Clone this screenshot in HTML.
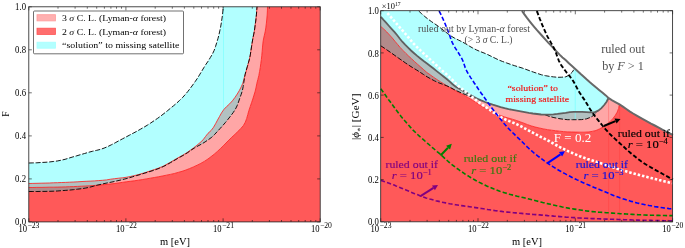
<!DOCTYPE html>
<html><head><meta charset="utf-8"><title>plot</title>
<style>html,body{margin:0;padding:0;background:#fff}svg{display:block}</style></head>
<body><svg width="685" height="248" viewBox="0 0 685 248">
<rect width="685" height="248" fill="#fff"/>
<g id="left">
<path d="M28.8,183.5 L32.9,183.4 L37.0,183.3 L41.1,183.2 L45.2,183.1 L49.3,183.0 L53.4,182.8 L57.5,182.7 L61.6,182.5 L65.7,182.4 L69.7,182.2 L73.8,182.0 L77.9,181.8 L82.0,181.5 L86.1,181.3 L90.2,181.1 L94.3,180.9 L98.4,180.6 L102.5,180.3 L106.5,179.9 L110.6,179.2 L114.6,178.7 L118.7,178.2 L122.8,177.8 L126.8,177.2 L130.8,176.4 L134.8,175.5 L138.8,174.5 L142.8,173.3 L146.7,172.1 L150.6,170.8 L154.5,169.5 L158.3,168.2 L162.1,166.7 L165.8,164.8 L169.4,162.8 L172.9,160.8 L176.4,158.7 L180.0,156.7 L183.6,154.7 L187.1,152.5 L190.4,150.2 L193.7,147.8 L197.0,145.2 L200.1,142.6 L203.1,139.8 L205.5,136.5 L208.0,133.3 L211.1,130.5 L213.5,127.3 L215.6,123.7 L217.5,120.1 L219.5,116.5 L221.5,112.9 L223.8,109.5 L226.6,106.6 L229.7,103.8 L232.4,100.8 L234.9,97.5 L237.2,94.1 L239.3,90.6 L241.2,86.9 L242.8,83.2 L243.9,79.2 L244.9,75.3 L246.1,71.3 L247.2,67.4 L248.3,63.4 L249.3,59.5 L250.2,55.5 L250.8,51.4 L251.4,47.4 L252.1,43.3 L252.7,39.3 L253.5,35.3 L254.3,31.2 L254.9,27.2 L255.4,23.1 L255.9,19.1 L256.4,15.0 L256.7,10.9 L257.0,6.8 L267.5,6.8 L267.4,10.9 L267.2,15.0 L266.8,19.0 L266.4,23.1 L265.9,27.1 L265.3,31.1 L264.4,35.1 L263.5,39.0 L262.9,43.1 L262.5,47.1 L262.2,51.2 L261.8,55.2 L261.4,59.3 L260.8,63.3 L260.3,67.3 L259.6,71.3 L258.9,75.3 L257.9,79.3 L256.9,83.2 L256.1,87.2 L255.2,91.2 L254.0,95.1 L252.8,99.0 L251.5,102.8 L250.2,106.7 L248.9,110.5 L247.8,114.5 L246.7,118.4 L245.3,122.2 L243.3,125.7 L240.6,128.7 L237.7,131.6 L234.8,134.5 L231.8,137.2 L228.9,140.1 L226.0,143.0 L223.2,145.9 L220.3,148.7 L217.3,151.5 L214.2,154.2 L211.0,156.7 L207.8,159.1 L204.3,161.4 L200.8,163.4 L197.2,165.2 L193.5,166.9 L189.7,168.5 L185.9,170.0 L182.1,171.3 L178.2,172.4 L174.3,173.5 L170.3,174.4 L166.3,175.2 L162.3,176.0 L158.3,176.8 L154.3,177.5 L150.3,178.2 L146.3,178.9 L142.3,179.6 L138.3,180.2 L134.2,180.8 L130.2,181.3 L126.2,181.8 L122.2,182.4 L118.1,183.0 L114.1,183.6 L110.1,184.0 L106.0,184.5 L102.0,184.8 L97.9,185.2 L93.9,185.5 L89.8,185.8 L85.7,186.0 L81.7,186.2 L77.6,186.4 L73.5,186.6 L69.5,186.7 L65.4,186.9 L61.3,187.0 L57.3,187.1 L53.2,187.2 L49.1,187.2 L45.1,187.3 L41.0,187.4 L36.9,187.4 L32.9,187.5 L28.8,187.5Z" fill="#ffa6a6"/>
<path d="M28.8,187.5 L32.9,187.5 L36.9,187.4 L41.0,187.4 L45.1,187.3 L49.1,187.2 L53.2,187.2 L57.3,187.1 L61.3,187.0 L65.4,186.9 L69.5,186.7 L73.5,186.6 L77.6,186.4 L81.7,186.2 L85.7,186.0 L89.8,185.8 L93.9,185.5 L97.9,185.2 L102.0,184.8 L106.0,184.5 L110.1,184.0 L114.1,183.6 L118.1,183.0 L122.2,182.4 L126.2,181.8 L130.2,181.3 L134.2,180.8 L138.3,180.2 L142.3,179.6 L146.3,178.9 L150.3,178.2 L154.3,177.5 L158.3,176.8 L162.3,176.0 L166.3,175.2 L170.3,174.4 L174.3,173.5 L178.2,172.4 L182.1,171.3 L185.9,170.0 L189.7,168.5 L193.5,166.9 L197.2,165.2 L200.8,163.4 L204.3,161.4 L207.8,159.1 L211.0,156.7 L214.2,154.2 L217.3,151.5 L220.3,148.7 L223.2,145.9 L226.0,143.0 L228.9,140.1 L231.8,137.2 L234.8,134.5 L237.7,131.6 L240.6,128.7 L243.3,125.7 L245.3,122.2 L246.7,118.4 L247.8,114.5 L248.9,110.5 L250.2,106.7 L251.5,102.8 L252.8,99.0 L254.0,95.1 L255.2,91.2 L256.1,87.2 L256.9,83.2 L257.9,79.3 L258.9,75.3 L259.6,71.3 L260.3,67.3 L260.8,63.3 L261.4,59.3 L261.8,55.2 L262.2,51.2 L262.5,47.1 L262.9,43.1 L263.5,39.0 L264.4,35.1 L265.3,31.1 L265.9,27.1 L266.4,23.1 L266.8,19.0 L267.2,15.0 L267.4,10.9 L267.5,6.8 L320.2,6.8 L320.2,221.9 L28.8,221.9Z" fill="#ff5959"/>
<path d="M28.8,163.0 L32.9,162.9 L36.9,162.8 L41.0,162.5 L45.0,162.3 L49.1,162.0 L53.2,161.5 L57.2,161.0 L61.2,160.2 L65.1,159.3 L69.0,158.1 L72.9,156.9 L76.8,155.8 L80.7,154.6 L84.6,153.5 L88.5,152.3 L92.4,151.3 L96.4,150.4 L100.4,149.4 L104.1,148.1 L107.9,146.5 L111.5,144.7 L115.2,142.8 L118.8,140.8 L122.4,138.9 L126.0,137.0 L129.6,135.1 L133.2,133.2 L136.8,131.3 L140.3,129.3 L143.8,127.3 L147.3,125.2 L150.7,123.0 L154.1,120.7 L157.5,118.4 L160.8,116.0 L164.0,113.5 L167.2,111.0 L170.3,108.4 L173.5,105.8 L176.6,103.2 L179.6,100.4 L182.5,97.6 L185.2,94.6 L187.8,91.5 L190.3,88.3 L192.7,85.0 L195.1,81.7 L197.4,78.3 L199.5,74.9 L201.6,71.4 L203.7,67.9 L205.9,64.4 L208.2,61.1 L210.3,57.6 L212.4,54.1 L214.1,50.5 L215.5,46.6 L216.7,42.7 L217.9,38.8 L218.9,34.9 L219.8,30.9 L220.6,27.0 L221.3,23.0 L221.9,19.0 L222.5,14.9 L222.9,10.9 L223.2,6.8 L257.0,6.8 L256.7,10.9 L256.4,14.9 L256.0,18.9 L255.5,22.9 L254.9,27.0 L254.4,31.0 L253.6,34.9 L252.8,38.9 L252.1,42.9 L251.5,46.9 L250.9,50.9 L250.3,54.9 L249.5,58.9 L248.4,62.8 L247.3,66.7 L246.1,70.6 L245.1,74.5 L244.4,78.5 L243.8,82.5 L243.2,86.5 L242.4,90.5 L241.2,94.3 L239.8,98.1 L238.5,102.0 L237.1,105.8 L235.3,109.4 L233.1,112.7 L230.6,116.0 L228.1,119.2 L225.5,122.4 L222.9,125.4 L220.2,128.4 L217.4,131.4 L214.7,134.4 L211.8,137.2 L208.5,139.6 L205.1,141.9 L201.7,144.0 L198.1,145.9 L194.6,147.9 L191.2,150.1 L187.9,152.5 L184.5,154.6 L181.0,156.6 L177.4,158.6 L173.9,160.7 L170.4,162.7 L166.9,164.7 L163.3,166.6 L159.6,168.2 L155.8,169.6 L152.0,170.9 L148.1,172.1 L144.2,173.3 L140.4,174.5 L136.5,175.6 L132.6,176.8 L128.7,178.0 L124.8,179.0 L120.9,180.0 L116.9,180.9 L113.0,181.8 L109.0,182.6 L105.0,183.4 L101.1,184.3 L97.1,185.2 L93.2,186.3 L89.3,187.3 L85.3,188.1 L81.4,188.7 L77.3,189.2 L73.3,189.7 L69.3,190.1 L65.2,190.4 L61.2,190.7 L57.1,191.0 L53.1,191.2 L49.1,191.3 L45.0,191.4 L41.0,191.4 L36.9,191.5 L32.9,191.5 L28.8,191.5Z" fill="#00ffff" fill-opacity="0.3"/>
<path d="M223.5,7V110" stroke="#7ff" stroke-width="1" opacity="0.6" fill="none"/>
<path d="M28.8,183.5 L32.9,183.4 L37.0,183.3 L41.1,183.2 L45.2,183.1 L49.3,183.0 L53.4,182.8 L57.5,182.7 L61.6,182.5 L65.7,182.4 L69.7,182.2 L73.8,182.0 L77.9,181.8 L82.0,181.5 L86.1,181.3 L90.2,181.1 L94.3,180.9 L98.4,180.6 L102.5,180.3 L106.5,179.9 L110.6,179.2 L114.6,178.7 L118.7,178.2 L122.8,177.8 L126.8,177.2 L130.8,176.4 L134.8,175.5 L138.8,174.5 L142.8,173.3 L146.7,172.1 L150.6,170.8 L154.5,169.5 L158.3,168.2 L162.1,166.7 L165.8,164.8 L169.4,162.8 L172.9,160.8 L176.4,158.7 L180.0,156.7 L183.6,154.7 L187.1,152.5 L190.4,150.2 L193.7,147.8 L197.0,145.2 L200.1,142.6 L203.1,139.8 L205.5,136.5 L208.0,133.3 L211.1,130.5 L213.5,127.3 L215.6,123.7 L217.5,120.1 L219.5,116.5 L221.5,112.9 L223.8,109.5 L226.6,106.6 L229.7,103.8 L232.4,100.8 L234.9,97.5 L237.2,94.1 L239.3,90.6 L241.2,86.9 L242.8,83.2 L243.9,79.2 L244.9,75.3 L246.1,71.3 L247.2,67.4 L248.3,63.4 L249.3,59.5 L250.2,55.5 L250.8,51.4 L251.4,47.4 L252.1,43.3 L252.7,39.3 L253.5,35.3 L254.3,31.2 L254.9,27.2 L255.4,23.1 L255.9,19.1 L256.4,15.0 L256.7,10.9 L257.0,6.8" stroke="#ff1a1a" stroke-width="0.85" opacity="0.95" fill="none"/>
<path d="M28.8,187.5 L32.9,187.5 L36.9,187.4 L41.0,187.4 L45.1,187.3 L49.1,187.2 L53.2,187.2 L57.3,187.1 L61.3,187.0 L65.4,186.9 L69.5,186.7 L73.5,186.6 L77.6,186.4 L81.7,186.2 L85.7,186.0 L89.8,185.8 L93.9,185.5 L97.9,185.2 L102.0,184.8 L106.0,184.5 L110.1,184.0 L114.1,183.6 L118.1,183.0 L122.2,182.4 L126.2,181.8 L130.2,181.3 L134.2,180.8 L138.3,180.2 L142.3,179.6 L146.3,178.9 L150.3,178.2 L154.3,177.5 L158.3,176.8 L162.3,176.0 L166.3,175.2 L170.3,174.4 L174.3,173.5 L178.2,172.4 L182.1,171.3 L185.9,170.0 L189.7,168.5 L193.5,166.9 L197.2,165.2 L200.8,163.4 L204.3,161.4 L207.8,159.1 L211.0,156.7 L214.2,154.2 L217.3,151.5 L220.3,148.7 L223.2,145.9 L226.0,143.0 L228.9,140.1 L231.8,137.2 L234.8,134.5 L237.7,131.6 L240.6,128.7 L243.3,125.7 L245.3,122.2 L246.7,118.4 L247.8,114.5 L248.9,110.5 L250.2,106.7 L251.5,102.8 L252.8,99.0 L254.0,95.1 L255.2,91.2 L256.1,87.2 L256.9,83.2 L257.9,79.3 L258.9,75.3 L259.6,71.3 L260.3,67.3 L260.8,63.3 L261.4,59.3 L261.8,55.2 L262.2,51.2 L262.5,47.1 L262.9,43.1 L263.5,39.0 L264.4,35.1 L265.3,31.1 L265.9,27.1 L266.4,23.1 L266.8,19.0 L267.2,15.0 L267.4,10.9 L267.5,6.8" stroke="#ff1a1a" stroke-width="0.85" opacity="0.95" fill="none"/>
<path d="M28.8,163.0 L32.9,162.9 L36.9,162.8 L41.0,162.5 L45.0,162.3 L49.1,162.0 L53.2,161.5 L57.2,161.0 L61.2,160.2 L65.1,159.3 L69.0,158.1 L72.9,156.9 L76.8,155.8 L80.7,154.6 L84.6,153.5 L88.5,152.3 L92.4,151.3 L96.4,150.4 L100.4,149.4 L104.1,148.1 L107.9,146.5 L111.5,144.7 L115.2,142.8 L118.8,140.8 L122.4,138.9 L126.0,137.0 L129.6,135.1 L133.2,133.2 L136.8,131.3 L140.3,129.3 L143.8,127.3 L147.3,125.2 L150.7,123.0 L154.1,120.7 L157.5,118.4 L160.8,116.0 L164.0,113.5 L167.2,111.0 L170.3,108.4 L173.5,105.8 L176.6,103.2 L179.6,100.4 L182.5,97.6 L185.2,94.6 L187.8,91.5 L190.3,88.3 L192.7,85.0 L195.1,81.7 L197.4,78.3 L199.5,74.9 L201.6,71.4 L203.7,67.9 L205.9,64.4 L208.2,61.1 L210.3,57.6 L212.4,54.1 L214.1,50.5 L215.5,46.6 L216.7,42.7 L217.9,38.8 L218.9,34.9 L219.8,30.9 L220.6,27.0 L221.3,23.0 L221.9,19.0 L222.5,14.9 L222.9,10.9 L223.2,6.8" stroke="#000" stroke-width="0.9" stroke-dasharray="5 1.8" fill="none"/>
<path d="M28.8,191.5 L32.9,191.5 L36.9,191.5 L41.0,191.4 L45.0,191.4 L49.1,191.3 L53.1,191.2 L57.1,191.0 L61.2,190.7 L65.2,190.4 L69.3,190.1 L73.3,189.7 L77.3,189.2 L81.4,188.7 L85.3,188.1 L89.3,187.3 L93.2,186.3 L97.1,185.2 L101.1,184.3 L105.0,183.4 L109.0,182.6 L113.0,181.8 L116.9,180.9 L120.9,180.0 L124.8,179.0 L128.7,178.0 L132.6,176.8 L136.5,175.6 L140.4,174.5 L144.2,173.3 L148.1,172.1 L152.0,170.9 L155.8,169.6 L159.6,168.2 L163.3,166.6 L166.9,164.7 L170.4,162.7 L173.9,160.7 L177.4,158.6 L181.0,156.6 L184.5,154.6 L187.9,152.5 L191.2,150.1 L194.6,147.9 L198.1,145.9 L201.7,144.0 L205.1,141.9 L208.5,139.6 L211.8,137.2 L214.7,134.4 L217.4,131.4 L220.2,128.4 L222.9,125.4 L225.5,122.4 L228.1,119.2 L230.6,116.0 L233.1,112.7 L235.3,109.4 L237.1,105.8 L238.5,102.0 L239.8,98.1 L241.2,94.3 L242.4,90.5 L243.2,86.5 L243.8,82.5 L244.4,78.5 L245.1,74.5 L246.1,70.6 L247.3,66.7 L248.4,62.8 L249.5,58.9 L250.3,54.9 L250.9,50.9 L251.5,46.9 L252.1,42.9 L252.8,38.9 L253.6,34.9 L254.4,31.0 L254.9,27.0 L255.5,22.9 L256.0,18.9 L256.4,14.9 L256.7,10.9 L257.0,6.8" stroke="#000" stroke-width="0.9" stroke-dasharray="5 1.8" fill="none"/>
</g>
<g id="right">
<path d="M380.8,26.5 L383.9,29.2 L386.8,32.0 L389.6,35.0 L392.3,38.0 L394.9,41.2 L397.5,44.3 L400.1,47.4 L402.9,50.4 L405.8,53.3 L408.7,56.1 L411.7,58.9 L414.7,61.7 L417.7,64.4 L420.8,67.1 L423.8,69.8 L426.9,72.5 L430.2,74.8 L433.5,77.2 L436.9,79.5 L440.3,81.7 L443.8,83.9 L447.2,86.0 L450.8,88.0 L454.3,90.0 L457.9,92.0 L461.5,93.9 L465.0,95.9 L468.6,97.9 L472.1,100.0 L475.5,102.2 L478.9,104.4 L482.4,106.5 L486.0,108.5 L489.6,110.4 L493.2,112.2 L496.9,114.0 L500.7,115.5 L504.5,116.9 L508.4,118.1 L512.3,119.2 L516.2,120.4 L520.1,121.8 L523.9,123.2 L527.7,124.7 L531.6,126.0 L535.5,127.1 L539.4,128.0 L543.4,128.9 L547.4,129.6 L551.5,130.2 L555.5,130.7 L559.5,131.2 L563.6,131.6 L567.7,131.9 L571.7,132.0 L575.8,132.1 L579.9,132.2 L584.0,132.2 L588.1,132.0 L592.1,131.4 L596.0,130.5 L599.7,128.8 L603.3,126.8 L606.7,124.5 L609.8,121.8 L612.6,118.9 L615.1,115.6 L617.2,112.1 L618.6,108.4 L619.4,104.3 L619.5,104.3 L622.9,106.6 L626.3,109.0 L629.6,111.3 L633.1,113.5 L636.7,115.6 L640.2,117.6 L643.8,119.6 L647.4,121.6 L651.0,123.6 L654.7,125.5 L658.3,127.4 L661.9,129.4 L665.6,131.3 L669.2,133.1 L672.9,135.0 L672.6,221.8 L380.7,221.8Z" fill="#ff5959"/>
<path d="M380.8,16.8 L383.5,19.9 L386.3,22.9 L389.0,26.0 L391.8,29.1 L394.6,32.1 L397.2,35.2 L399.7,38.5 L402.3,41.7 L405.1,44.7 L408.1,47.6 L411.0,50.5 L414.1,53.2 L417.2,55.9 L420.4,58.5 L423.6,61.0 L427.0,63.5 L430.2,66.0 L433.5,68.5 L436.7,71.1 L439.9,73.6 L443.2,76.2 L446.4,78.7 L449.5,81.4 L452.6,84.2 L455.8,86.7 L459.4,88.8 L463.0,90.7 L466.6,92.8 L470.1,94.9 L473.7,96.9 L477.4,98.7 L481.2,100.4 L485.0,102.0 L488.8,103.4 L492.7,104.7 L496.7,105.9 L500.6,107.1 L504.6,108.2 L508.6,109.1 L512.6,109.9 L516.7,110.7 L520.7,111.4 L524.8,112.2 L528.8,112.9 L532.9,113.5 L537.0,114.0 L541.1,114.5 L545.2,114.7 L549.3,114.6 L553.4,114.3 L557.5,113.9 L561.6,113.3 L565.7,112.8 L569.8,112.1 L573.8,111.8 L578.0,111.8 L582.1,111.9 L586.2,112.1 L590.3,112.3 L594.4,112.3 L598.2,110.6 L601.4,108.1 L604.2,105.0 L606.6,101.7 L608.5,98.0 L608.7,98.2 L612.2,100.4 L615.8,102.3 L619.4,104.3 L618.6,108.4 L617.2,112.1 L615.1,115.6 L612.6,118.9 L609.8,121.8 L606.7,124.5 L603.3,126.8 L599.7,128.8 L596.0,130.5 L592.1,131.4 L588.1,132.0 L584.0,132.2 L579.9,132.2 L575.8,132.1 L571.7,132.0 L567.7,131.9 L563.6,131.6 L559.5,131.2 L555.5,130.7 L551.5,130.2 L547.4,129.6 L543.4,128.9 L539.4,128.0 L535.5,127.1 L531.6,126.0 L527.7,124.7 L523.9,123.2 L520.1,121.8 L516.2,120.4 L512.3,119.2 L508.4,118.1 L504.5,116.9 L500.7,115.5 L496.9,114.0 L493.2,112.2 L489.6,110.4 L486.0,108.5 L482.4,106.5 L478.9,104.4 L475.5,102.2 L472.1,100.0 L468.6,97.9 L465.0,95.9 L461.5,93.9 L457.9,92.0 L454.3,90.0 L450.8,88.0 L447.2,86.0 L443.8,83.9 L440.3,81.7 L436.9,79.5 L433.5,77.2 L430.2,74.8 L426.9,72.5 L423.8,69.8 L420.8,67.1 L417.7,64.4 L414.7,61.7 L411.7,58.9 L408.7,56.1 L405.8,53.3 L402.9,50.4 L400.1,47.4 L397.5,44.3 L394.9,41.2 L392.3,38.0 L389.6,35.0 L386.8,32.0 L383.9,29.2 L380.8,26.5Z" fill="#ffa6a6"/>
<path d="M380.7,10.7 L418.7,11.0 L421.7,13.8 L424.8,16.5 L428.0,19.1 L431.3,21.5 L434.7,23.8 L438.1,26.1 L441.3,28.6 L444.6,31.2 L447.8,33.7 L451.2,36.1 L454.7,38.2 L458.4,40.0 L462.1,41.8 L465.7,43.8 L469.2,46.0 L472.7,48.0 L476.4,49.9 L480.1,51.5 L484.0,53.0 L487.7,54.6 L491.4,56.4 L495.1,58.2 L498.8,60.0 L502.6,61.5 L506.5,62.9 L510.4,64.3 L514.3,65.6 L518.2,66.8 L522.1,68.0 L526.0,69.4 L529.8,70.8 L533.7,72.2 L537.6,73.5 L541.5,74.8 L545.5,75.7 L549.6,76.4 L553.6,76.9 L557.8,77.3 L561.9,77.2 L565.9,76.8 L569.6,74.8 L572.4,72.0 L574.5,68.3 L574.7,68.5 L577.7,71.3 L580.7,74.1 L583.8,76.8 L586.8,79.6 L589.9,82.3 L593.1,84.9 L596.2,87.6 L599.4,90.2 L602.6,92.7 L605.8,95.4 L608.5,98.0 L606.6,101.7 L604.2,105.0 L601.4,108.1 L598.2,110.6 L597.5,111.0 L594.6,114.7 L590.7,117.3 L586.3,118.9 L581.7,119.6 L577.1,119.7 L572.4,119.7 L567.7,119.7 L563.1,119.2 L558.4,118.5 L553.9,117.6 L549.3,116.4 L545.0,114.7 L541.1,114.5 L537.0,114.0 L532.9,113.5 L528.8,112.9 L524.8,112.2 L520.7,111.4 L516.7,110.7 L512.6,109.9 L508.6,109.1 L504.6,108.2 L500.6,107.1 L496.7,105.9 L492.7,104.7 L488.8,103.4 L485.0,102.0 L482.0,100.7 L478.0,99.3 L473.9,97.8 L469.9,96.3 L465.9,94.8 L461.9,93.2 L458.0,91.4 L454.2,89.6 L450.4,87.5 L446.5,85.7 L442.5,84.2 L438.5,82.7 L434.6,80.9 L430.8,78.9 L427.1,76.8 L423.5,74.5 L419.9,72.1 L416.3,69.8 L412.6,67.6 L409.0,65.3 L405.4,62.9 L401.9,60.4 L398.4,58.0 L394.9,55.5 L391.4,53.0 L387.9,50.6 L384.4,48.2 L380.8,45.8Z" fill="#00ffff" fill-opacity="0.3"/>
<path d="M575.3,68V120" stroke="#7ff" stroke-width="1.2" opacity="0.55" fill="none"/>
<path d="M608.6,98V222M619.6,105V222" stroke="#ff3030" stroke-width="0.7" opacity="0.4" fill="none"/>
<path d="M380.8,26.5 L383.9,29.2 L386.8,32.0 L389.6,35.0 L392.3,38.0 L394.9,41.2 L397.5,44.3 L400.1,47.4 L402.9,50.4 L405.8,53.3 L408.7,56.1 L411.7,58.9 L414.7,61.7 L417.7,64.4 L420.8,67.1 L423.8,69.8 L426.9,72.5 L430.2,74.8 L433.5,77.2 L436.9,79.5 L440.3,81.7 L443.8,83.9 L447.2,86.0 L450.8,88.0 L454.3,90.0 L457.9,92.0 L461.5,93.9 L465.0,95.9 L468.6,97.9 L472.1,100.0 L475.5,102.2 L478.9,104.4 L482.4,106.5 L486.0,108.5 L489.6,110.4 L493.2,112.2 L496.9,114.0 L500.7,115.5 L504.5,116.9 L508.4,118.1 L512.3,119.2 L516.2,120.4 L520.1,121.8 L523.9,123.2 L527.7,124.7 L531.6,126.0 L535.5,127.1 L539.4,128.0 L543.4,128.9 L547.4,129.6 L551.5,130.2 L555.5,130.7 L559.5,131.2 L563.6,131.6 L567.7,131.9 L571.7,132.0 L575.8,132.1 L579.9,132.2 L584.0,132.2 L588.1,132.0 L592.1,131.4 L596.0,130.5 L599.7,128.8 L603.3,126.8 L606.7,124.5 L609.8,121.8 L612.6,118.9 L615.1,115.6 L617.2,112.1 L618.6,108.4 L619.4,104.3" stroke="#ff1a1a" stroke-width="0.85" opacity="0.95" fill="none"/>
<path d="M418.7,11.0 L421.7,13.8 L424.8,16.5 L428.0,19.1 L431.3,21.5 L434.7,23.8 L438.1,26.1 L441.3,28.6 L444.6,31.2 L447.8,33.7 L451.2,36.1 L454.7,38.2 L458.4,40.0 L462.1,41.8 L465.7,43.8 L469.2,46.0 L472.7,48.0 L476.4,49.9 L480.1,51.5 L484.0,53.0 L487.7,54.6 L491.4,56.4 L495.1,58.2 L498.8,60.0 L502.6,61.5 L506.5,62.9 L510.4,64.3 L514.3,65.6 L518.2,66.8 L522.1,68.0 L526.0,69.4 L529.8,70.8 L533.7,72.2 L537.6,73.5 L541.5,74.8 L545.5,75.7 L549.6,76.4 L553.6,76.9 L557.8,77.3 L561.9,77.2 L565.9,76.8 L569.6,74.8 L572.4,72.0 L574.5,68.3" stroke="#000" stroke-width="0.9" stroke-dasharray="5 1.8" fill="none"/>
<path d="M380.8,45.8 L384.4,48.2 L387.9,50.6 L391.4,53.0 L394.9,55.5 L398.4,58.0 L401.9,60.4 L405.4,62.9 L409.0,65.3 L412.6,67.6 L416.3,69.8 L419.9,72.1 L423.5,74.5 L427.1,76.8 L430.8,78.9 L434.6,80.9 L438.5,82.7 L442.5,84.2 L446.5,85.7 L450.4,87.5 L454.2,89.6 L458.0,91.4 L461.9,93.2 L465.9,94.8 L469.9,96.3 L473.9,97.8 L478.0,99.3 L482.0,100.7" stroke="#000" stroke-width="0.9" stroke-dasharray="5 1.8" fill="none"/>
<path d="M545.0,114.7 L549.3,116.4 L553.9,117.6 L558.4,118.5 L563.1,119.2 L567.7,119.7 L572.4,119.7 L577.1,119.7 L581.7,119.6 L586.3,118.9 L590.7,117.3 L594.6,114.7 L597.5,111.0" stroke="#000" stroke-width="0.9" stroke-dasharray="5 1.8" fill="none"/>
<path d="M380.8,16.8 L383.5,19.9 L386.3,22.9 L389.0,26.0 L391.8,29.1 L394.6,32.1 L397.2,35.2 L399.7,38.5 L402.3,41.7 L405.1,44.7 L408.1,47.6 L411.0,50.5 L414.1,53.2 L417.2,55.9 L420.4,58.5 L423.6,61.0 L427.0,63.5 L430.2,66.0 L433.5,68.5 L436.7,71.1 L439.9,73.6 L443.2,76.2 L446.4,78.7 L449.5,81.4 L452.6,84.2 L455.8,86.7 L459.4,88.8 L463.0,90.7 L466.6,92.8 L470.1,94.9 L473.7,96.9 L477.4,98.7 L481.2,100.4 L485.0,102.0 L488.8,103.4 L492.7,104.7 L496.7,105.9 L500.6,107.1 L504.6,108.2 L508.6,109.1 L512.6,109.9 L516.7,110.7 L520.7,111.4 L524.8,112.2 L528.8,112.9 L532.9,113.5 L537.0,114.0 L541.1,114.5 L545.2,114.7 L549.3,114.6 L553.4,114.3 L557.5,113.9 L561.6,113.3 L565.7,112.8 L569.8,112.1 L573.8,111.8 L578.0,111.8 L582.1,111.9 L586.2,112.1 L590.3,112.3 L594.4,112.3 L598.2,110.6 L601.4,108.1 L604.2,105.0 L606.6,101.7 L608.5,98.0" stroke="#606060" stroke-width="1.8" fill="none"/>
<path d="M522.0,11.0 L524.4,14.4 L526.8,17.7 L529.3,20.9 L531.9,24.1 L534.6,27.3 L537.2,30.4 L540.0,33.5 L542.7,36.5 L545.5,39.6 L548.2,42.6 L551.1,45.6 L553.9,48.6 L556.7,51.6 L559.6,54.6 L562.5,57.4 L565.6,60.1 L568.6,62.9 L571.7,65.7 L574.7,68.5 L577.7,71.3 L580.7,74.1 L583.8,76.8 L586.8,79.6 L589.9,82.3 L593.1,84.9 L596.2,87.6 L599.4,90.2 L602.6,92.7 L605.8,95.4 L608.7,98.2 L612.2,100.4 L615.8,102.3 L619.5,104.3 L622.9,106.6 L626.3,109.0 L629.6,111.3 L633.1,113.5 L636.7,115.6 L640.2,117.6 L643.8,119.6 L647.4,121.6 L651.0,123.6 L654.7,125.5 L658.3,127.4 L661.9,129.4 L665.6,131.3 L669.2,133.1 L672.9,135.0" stroke="#686868" stroke-width="2.0" fill="none"/>
<path d="M387.4,13.1 L388.7,14.6 L390.1,16.2 L391.4,17.7 L392.7,19.2 L394.0,20.7 L395.4,22.3 L396.7,23.8 L398.0,25.3 L399.3,26.8 L400.7,28.4 L402.0,29.9 L403.3,31.4 L404.6,32.9 L406.0,34.5 L407.3,36.0 L408.6,37.6 L409.8,39.2 L411.1,40.7 L412.4,42.3 L413.8,43.8 L415.2,45.2 L416.6,46.7 L418.0,48.1 L419.5,49.5 L420.9,50.9 L422.4,52.3 L423.9,53.7 L425.4,55.0 L426.9,56.4 L428.3,57.8 L429.8,59.2 L431.3,60.6 L432.8,61.9 L434.3,63.3 L435.8,64.7 L437.2,66.0 L438.7,67.4 L440.2,68.8 L441.7,70.1 L443.2,71.5 L444.8,72.8 L446.3,74.1 L447.8,75.5 L449.3,76.9 L450.7,78.2 L452.2,79.7 L453.6,81.2 L454.9,82.6 L456.3,84.1 L457.8,85.5 L459.3,86.8 L460.9,88.1 L462.5,89.3 L464.1,90.6 L465.7,91.8 L467.2,93.1 L468.8,94.4 L470.4,95.6 L472.0,96.9 L473.6,98.1 L475.2,99.4 L476.8,100.6 L478.4,101.9 L480.0,103.1 L481.6,104.2 L483.3,105.4 L485.0,106.5 L486.6,107.7 L488.3,108.8 L490.0,110.0 L491.6,111.1 L493.3,112.3 L495.0,113.4 L496.7,114.5 L498.4,115.6 L500.1,116.7 L501.8,117.7 L503.6,118.6 L505.4,119.5 L507.3,120.3 L509.2,121.1 L511.1,121.8 L512.9,122.6 L514.8,123.4 L516.6,124.2 L518.5,125.1 L520.3,126.0 L522.1,126.9 L523.8,127.9 L525.6,128.8 L527.4,129.8 L529.2,130.8 L530.9,131.8 L532.7,132.7 L534.5,133.7 L536.3,134.6 L538.1,135.5 L539.9,136.5 L541.7,137.4 L543.5,138.3 L545.3,139.2 L547.1,140.1 L548.9,141.0 L550.7,142.0 L552.4,143.0 L554.2,144.0 L556.0,145.0 L557.7,145.9 L559.5,146.9 L561.3,147.8 L563.2,148.7 L565.0,149.6 L566.8,150.5 L568.6,151.4 L570.5,152.2 L572.3,153.0 L574.2,153.9 L576.0,154.6 L577.9,155.4 L579.8,156.2 L581.6,156.9 L583.5,157.6 L585.4,158.2 L587.4,158.9 L589.3,159.5 L591.2,160.1 L593.1,160.7 L595.1,161.4 L597.0,162.0 L598.9,162.6 L600.9,163.2 L602.8,163.8 L604.7,164.4 L606.6,165.1 L608.6,165.7 L610.5,166.4 L612.4,167.0 L614.3,167.7 L616.2,168.3 L618.1,168.9 L620.1,169.6 L622.0,170.2 L623.9,170.7 L625.9,171.3 L627.8,171.9 L629.8,172.4 L631.7,173.0 L633.7,173.5 L635.6,174.0 L637.6,174.6 L639.5,175.1 L641.5,175.6 L643.4,176.1 L645.4,176.6 L647.3,177.1 L649.3,177.6 L651.3,178.1 L653.2,178.6 L655.2,179.1 L657.2,179.6 L659.1,180.1 L661.1,180.5 L663.0,181.0 L665.0,181.5 L667.0,181.9 L669.0,182.4 L670.9,182.9 L672.9,183.3" stroke="#fff" stroke-width="2.6" stroke-dasharray="2.5 1.9" fill="none"/>
<path d="M537.0,11.0 L537.6,12.9 L538.3,14.8 L539.0,16.7 L539.7,18.6 L540.5,20.5 L541.2,22.4 L542.0,24.3 L542.8,26.1 L543.6,28.0 L544.4,29.8 L545.2,31.7 L546.1,33.5 L546.9,35.3 L547.8,37.1 L548.8,38.9 L549.8,40.6 L550.8,42.4 L551.8,44.1 L552.8,45.9 L553.7,47.7 L554.6,49.5 L555.4,51.4 L556.1,53.2 L556.8,55.2 L557.5,57.1 L558.2,59.0 L558.9,60.8 L559.8,62.6 L560.8,64.4 L561.9,66.1 L563.1,67.7 L564.2,69.4 L565.5,71.0 L566.7,72.6 L568.0,74.2 L569.3,75.7 L570.5,77.3 L571.7,78.9 L572.9,80.6 L573.9,82.3 L574.9,84.0 L575.8,85.8 L576.8,87.6 L577.7,89.4 L578.7,91.2 L579.8,92.9 L580.9,94.6 L582.0,96.3 L583.1,97.9 L584.3,99.6 L585.4,101.3 L586.4,103.0 L587.5,104.8 L588.5,106.5 L589.5,108.2 L590.6,109.9 L591.7,111.6 L592.8,113.3 L594.0,114.9 L595.2,116.5 L596.5,118.1 L597.7,119.7 L599.0,121.3 L600.2,122.9 L601.5,124.4 L602.8,126.0 L604.1,127.5 L605.4,129.1 L606.8,130.6 L608.1,132.1 L609.5,133.6 L610.9,135.0 L612.3,136.4 L613.8,137.8 L615.3,139.1 L616.8,140.5 L618.3,141.9 L619.8,143.2 L621.3,144.6 L622.8,146.0 L624.3,147.3 L625.8,148.7 L627.3,150.0 L628.8,151.4 L630.3,152.7 L631.8,154.0 L633.4,155.3 L635.0,156.6 L636.5,157.8 L638.1,159.1 L639.8,160.3 L641.4,161.5 L643.0,162.6 L644.7,163.7 L646.4,164.8 L648.2,165.8 L649.9,166.8 L651.7,167.8 L653.4,168.8 L655.2,169.8 L657.0,170.8 L658.7,171.8 L660.5,172.7 L662.3,173.7 L664.0,174.7 L665.8,175.7 L667.6,176.6 L669.3,177.6 L671.1,178.5 L672.9,179.5" stroke="#000" stroke-width="1.9" stroke-dasharray="4.3 2.2" fill="none"/>
<path d="M439.2,11.0 L440.1,12.8 L441.0,14.6 L441.8,16.4 L442.7,18.3 L443.5,20.1 L444.3,21.9 L445.1,23.8 L445.9,25.7 L446.6,27.5 L447.4,29.4 L448.1,31.3 L448.8,33.2 L449.5,35.0 L450.2,37.0 L450.8,38.9 L451.5,40.7 L452.3,42.6 L453.2,44.4 L454.2,46.1 L455.2,47.9 L456.3,49.6 L457.4,51.3 L458.5,53.0 L459.5,54.7 L460.6,56.5 L461.6,58.2 L462.5,60.0 L463.3,61.9 L463.9,63.8 L464.6,65.7 L465.2,67.6 L466.0,69.5 L466.8,71.2 L467.8,73.0 L468.8,74.7 L469.9,76.4 L471.0,78.1 L472.2,79.8 L473.3,81.5 L474.4,83.2 L475.6,84.8 L476.7,86.5 L477.8,88.2 L478.9,89.9 L480.1,91.5 L481.2,93.2 L482.4,94.8 L483.5,96.5 L484.7,98.1 L485.9,99.7 L487.1,101.4 L488.2,103.0 L489.4,104.6 L490.6,106.3 L491.8,107.9 L493.0,109.5 L494.2,111.1 L495.4,112.7 L496.7,114.3 L497.9,115.9 L499.2,117.5 L500.4,119.0 L501.7,120.6 L503.0,122.1 L504.3,123.7 L505.6,125.2 L507.0,126.7 L508.3,128.2 L509.7,129.7 L511.1,131.1 L512.5,132.5 L514.0,133.9 L515.4,135.3 L516.9,136.7 L518.3,138.1 L519.8,139.5 L521.2,140.9 L522.6,142.3 L524.1,143.8 L525.5,145.2 L526.9,146.6 L528.4,148.0 L529.9,149.4 L531.4,150.7 L532.9,152.0 L534.4,153.3 L536.0,154.5 L537.6,155.8 L539.2,157.0 L540.8,158.2 L542.4,159.4 L544.0,160.6 L545.7,161.8 L547.3,163.0 L549.0,164.1 L550.7,165.2 L552.4,166.3 L554.1,167.4 L555.8,168.5 L557.5,169.5 L559.2,170.5 L561.0,171.5 L562.8,172.5 L564.5,173.4 L566.3,174.4 L568.1,175.3 L569.9,176.2 L571.7,177.2 L573.5,178.1 L575.3,179.0 L577.1,179.9 L578.9,180.7 L580.7,181.6 L582.6,182.4 L584.4,183.2 L586.2,184.0 L588.1,184.8 L589.9,185.6 L591.8,186.4 L593.7,187.2 L595.5,187.9 L597.4,188.7 L599.3,189.4 L601.1,190.2 L603.0,190.9 L604.9,191.7 L606.7,192.5 L608.6,193.3 L610.4,194.1 L612.3,194.9 L614.1,195.7 L616.0,196.4 L617.9,197.1 L619.8,197.8 L621.7,198.4 L623.6,199.0 L625.5,199.6 L627.5,200.2 L629.4,200.8 L631.3,201.4 L633.3,201.9 L635.2,202.4 L637.2,203.0 L639.1,203.4 L641.1,203.9 L643.1,204.3 L645.0,204.7 L647.0,205.1 L649.0,205.5 L650.9,205.8 L652.9,206.2 L654.9,206.6 L656.9,206.9 L658.9,207.2 L660.9,207.5 L662.9,207.8 L664.9,208.1 L666.9,208.3 L668.9,208.6 L670.9,208.8 L672.9,209.0" stroke="#0000ff" stroke-width="1.6" stroke-dasharray="4.3 2.2" fill="none"/>
<path d="M380.8,88.8 L382.0,90.4 L383.1,92.0 L384.3,93.7 L385.5,95.3 L386.7,97.0 L387.9,98.6 L389.0,100.2 L390.2,101.8 L391.4,103.5 L392.6,105.1 L393.8,106.7 L395.0,108.4 L396.2,110.0 L397.4,111.6 L398.6,113.2 L399.9,114.8 L401.1,116.4 L402.4,118.0 L403.7,119.5 L405.0,121.1 L406.3,122.6 L407.6,124.1 L409.0,125.6 L410.3,127.1 L411.7,128.6 L413.1,130.1 L414.5,131.5 L415.9,132.9 L417.4,134.3 L418.8,135.7 L420.3,137.0 L421.9,138.4 L423.4,139.7 L424.9,141.0 L426.4,142.4 L427.9,143.7 L429.5,145.0 L431.0,146.3 L432.5,147.7 L434.1,149.0 L435.6,150.3 L437.1,151.6 L438.7,152.9 L440.2,154.2 L441.7,155.6 L443.2,156.9 L444.7,158.3 L446.2,159.7 L447.7,161.0 L449.2,162.3 L450.7,163.6 L452.3,164.9 L453.9,166.1 L455.5,167.3 L457.1,168.5 L458.8,169.7 L460.4,170.9 L462.1,172.0 L463.8,173.1 L465.4,174.3 L467.2,175.3 L468.9,176.4 L470.6,177.5 L472.3,178.5 L474.1,179.5 L475.8,180.5 L477.6,181.4 L479.4,182.4 L481.2,183.3 L483.0,184.2 L484.8,185.0 L486.7,185.9 L488.5,186.7 L490.4,187.5 L492.2,188.3 L494.1,189.1 L496.0,189.8 L497.9,190.5 L499.8,191.2 L501.7,191.8 L503.6,192.4 L505.5,193.0 L507.5,193.6 L509.4,194.2 L511.4,194.7 L513.3,195.2 L515.3,195.7 L517.2,196.2 L519.2,196.6 L521.2,197.1 L523.1,197.5 L525.1,198.0 L527.0,198.5 L529.0,199.0 L531.0,199.5 L532.9,200.0 L534.9,200.5 L536.8,201.0 L538.8,201.5 L540.7,202.0 L542.7,202.5 L544.7,202.9 L546.6,203.4 L548.6,203.9 L550.6,204.3 L552.5,204.8 L554.5,205.2 L556.5,205.7 L558.4,206.1 L560.4,206.5 L562.4,207.0 L564.4,207.4 L566.3,207.7 L568.3,208.1 L570.3,208.5 L572.3,208.8 L574.3,209.1 L576.3,209.4 L578.3,209.7 L580.3,210.0 L582.3,210.3 L584.3,210.6 L586.3,210.9 L588.3,211.1 L590.3,211.4 L592.3,211.6 L594.3,211.8 L596.3,211.9 L598.3,212.1 L600.3,212.2 L602.3,212.4 L604.3,212.5 L606.3,212.7 L608.4,212.8 L610.4,213.0 L612.4,213.1 L614.4,213.3 L616.4,213.4 L618.4,213.5 L620.4,213.7 L622.4,213.8 L624.4,213.9 L626.5,214.0 L628.5,214.2 L630.5,214.3 L632.5,214.4 L634.5,214.5 L636.5,214.6 L638.5,214.7 L640.6,214.8 L642.6,214.9 L644.6,215.0 L646.6,215.1 L648.6,215.1 L650.6,215.2 L652.7,215.3 L654.7,215.3 L656.7,215.4 L658.7,215.4 L660.8,215.5 L662.8,215.5 L664.8,215.5 L666.8,215.6 L668.8,215.6 L670.9,215.6 L672.9,215.6" stroke="#008000" stroke-width="1.6" stroke-dasharray="4.3 2.2" fill="none"/>
<path d="M380.8,180.5 L382.7,181.1 L384.7,181.7 L386.6,182.4 L388.5,183.0 L390.4,183.7 L392.3,184.4 L394.2,185.1 L396.0,185.9 L397.9,186.6 L399.8,187.4 L401.6,188.2 L403.5,189.0 L405.4,189.7 L407.2,190.5 L409.1,191.3 L410.9,192.1 L412.8,192.9 L414.7,193.7 L416.6,194.4 L418.4,195.1 L420.3,195.9 L422.2,196.6 L424.1,197.2 L426.0,197.9 L428.0,198.5 L429.9,199.1 L431.8,199.6 L433.8,200.1 L435.8,200.7 L437.7,201.1 L439.7,201.6 L441.6,202.1 L443.6,202.5 L445.6,202.9 L447.6,203.3 L449.6,203.7 L451.6,204.0 L453.5,204.4 L455.5,204.7 L457.5,205.0 L459.5,205.3 L461.5,205.6 L463.5,205.9 L465.5,206.2 L467.5,206.4 L469.5,206.7 L471.5,207.0 L473.5,207.3 L475.5,207.6 L477.5,207.9 L479.5,208.2 L481.5,208.5 L483.5,208.8 L485.5,209.1 L487.5,209.5 L489.5,209.8 L491.5,210.1 L493.5,210.4 L495.5,210.7 L497.5,210.9 L499.5,211.2 L501.5,211.4 L503.5,211.7 L505.5,211.9 L507.5,212.1 L509.5,212.3 L511.6,212.5 L513.6,212.7 L515.6,212.9 L517.6,213.1 L519.6,213.3 L521.6,213.4 L523.6,213.6 L525.6,213.8 L527.7,214.0 L529.7,214.1 L531.7,214.3 L533.7,214.5 L535.7,214.6 L537.7,214.8 L539.7,214.9 L541.7,215.1 L543.8,215.2 L545.8,215.4 L547.8,215.6 L549.8,215.7 L551.8,215.9 L553.8,216.1 L555.8,216.2 L557.9,216.4 L559.9,216.6 L561.9,216.8 L563.9,216.9 L565.9,217.1 L567.9,217.2 L569.9,217.4 L572.0,217.5 L574.0,217.6 L576.0,217.7 L578.0,217.9 L580.0,218.0 L582.0,218.1 L584.1,218.2 L586.1,218.3 L588.1,218.4 L590.1,218.5 L592.1,218.6 L594.1,218.6 L596.2,218.7 L598.2,218.8 L600.2,218.9 L602.2,218.9 L604.2,219.0 L606.3,219.1 L608.3,219.2 L610.3,219.2 L612.3,219.3 L614.3,219.4 L616.3,219.4 L618.4,219.5 L620.4,219.6 L622.4,219.6 L624.4,219.7 L626.4,219.8 L628.5,219.8 L630.5,219.9 L632.5,220.0 L634.5,220.0 L636.5,220.1 L638.6,220.1 L640.6,220.2 L642.6,220.2 L644.6,220.3 L646.6,220.3 L648.7,220.4 L650.7,220.4 L652.7,220.5 L654.7,220.5 L656.7,220.6 L658.8,220.6 L660.8,220.6 L662.8,220.7 L664.8,220.7 L666.8,220.7 L668.9,220.8 L670.9,220.8 L672.9,220.8" stroke="#800080" stroke-width="1.6" stroke-dasharray="4.3 2.2" fill="none"/>
<path d="M603.8,126.0L615.5,121.1" stroke="#000" stroke-width="2.0" fill="none"/>
<path d="M620.5,119.0L616.6,123.6L614.5,118.6Z" fill="#000"/>
<path d="M547.5,163.2L560.5,154.3" stroke="#0000ff" stroke-width="2.0" fill="none"/>
<path d="M565.0,151.2L562.1,156.5L559.0,152.1Z" fill="#0000ff"/>
<path d="M440.5,155.5L448.0,147.7" stroke="#008000" stroke-width="2.0" fill="none"/>
<path d="M451.8,143.8L450.0,149.5L446.1,145.8Z" fill="#008000"/>
<path d="M420.5,196.2L433.5,187.9" stroke="#800080" stroke-width="2.0" fill="none"/>
<path d="M438.0,185.0L434.9,190.2L432.0,185.6Z" fill="#800080"/>
</g>
<path d="M28.8,221.9v-3.6M28.8,6.8v3.6M58.0,221.9v-1.9M58.0,6.8v1.9M75.1,221.9v-1.9M75.1,6.8v1.9M87.3,221.9v-1.9M87.3,6.8v1.9M96.7,221.9v-1.9M96.7,6.8v1.9M104.4,221.9v-1.9M104.4,6.8v1.9M110.9,221.9v-1.9M110.9,6.8v1.9M116.5,221.9v-1.9M116.5,6.8v1.9M121.5,221.9v-1.9M121.5,6.8v1.9M125.9,221.9v-3.6M125.9,6.8v3.6M155.2,221.9v-1.9M155.2,6.8v1.9M172.3,221.9v-1.9M172.3,6.8v1.9M184.4,221.9v-1.9M184.4,6.8v1.9M193.8,221.9v-1.9M193.8,6.8v1.9M201.5,221.9v-1.9M201.5,6.8v1.9M208.0,221.9v-1.9M208.0,6.8v1.9M213.7,221.9v-1.9M213.7,6.8v1.9M218.6,221.9v-1.9M218.6,6.8v1.9M223.1,221.9v-3.6M223.1,6.8v3.6M252.3,221.9v-1.9M252.3,6.8v1.9M269.4,221.9v-1.9M269.4,6.8v1.9M281.5,221.9v-1.9M281.5,6.8v1.9M291.0,221.9v-1.9M291.0,6.8v1.9M298.7,221.9v-1.9M298.7,6.8v1.9M305.2,221.9v-1.9M305.2,6.8v1.9M310.8,221.9v-1.9M310.8,6.8v1.9M315.8,221.9v-1.9M315.8,6.8v1.9M320.2,221.9v-3.6M320.2,6.8v3.6M28.8,221.9h3M320.2,221.9h-3M28.8,178.9h3M320.2,178.9h-3M28.8,135.9h3M320.2,135.9h-3M28.8,92.8h3M320.2,92.8h-3M28.8,49.8h3M320.2,49.8h-3M28.8,6.8h3M320.2,6.8h-3" stroke="#111" stroke-width="0.6" fill="none"/><rect x="28.8" y="6.8" width="291.4" height="215.1" fill="none" stroke="#2a2a2a" stroke-width="0.85"/>
<path d="M380.7,221.8v-3.6M380.7,10.7v3.6M410.0,221.8v-1.9M410.0,10.7v1.9M427.1,221.8v-1.9M427.1,10.7v1.9M439.3,221.8v-1.9M439.3,10.7v1.9M448.7,221.8v-1.9M448.7,10.7v1.9M456.4,221.8v-1.9M456.4,10.7v1.9M462.9,221.8v-1.9M462.9,10.7v1.9M468.6,221.8v-1.9M468.6,10.7v1.9M473.5,221.8v-1.9M473.5,10.7v1.9M478.0,221.8v-3.6M478.0,10.7v3.6M507.3,221.8v-1.9M507.3,10.7v1.9M524.4,221.8v-1.9M524.4,10.7v1.9M536.6,221.8v-1.9M536.6,10.7v1.9M546.0,221.8v-1.9M546.0,10.7v1.9M553.7,221.8v-1.9M553.7,10.7v1.9M560.2,221.8v-1.9M560.2,10.7v1.9M565.9,221.8v-1.9M565.9,10.7v1.9M570.8,221.8v-1.9M570.8,10.7v1.9M575.3,221.8v-3.6M575.3,10.7v3.6M604.6,221.8v-1.9M604.6,10.7v1.9M621.7,221.8v-1.9M621.7,10.7v1.9M633.9,221.8v-1.9M633.9,10.7v1.9M643.3,221.8v-1.9M643.3,10.7v1.9M651.0,221.8v-1.9M651.0,10.7v1.9M657.5,221.8v-1.9M657.5,10.7v1.9M663.2,221.8v-1.9M663.2,10.7v1.9M668.1,221.8v-1.9M668.1,10.7v1.9M672.6,221.8v-3.6M672.6,10.7v3.6M380.7,221.8h3M672.6,221.8h-3M380.7,179.6h3M672.6,179.6h-3M380.7,137.4h3M672.6,137.4h-3M380.7,95.1h3M672.6,95.1h-3M380.7,52.9h3M672.6,52.9h-3M380.7,10.7h3M672.6,10.7h-3" stroke="#111" stroke-width="0.6" fill="none"/><rect x="380.7" y="10.7" width="291.90000000000003" height="211.10000000000002" fill="none" stroke="#2a2a2a" stroke-width="0.85"/>
<g font-family="'Liberation Serif', 'DejaVu Serif', serif" fill="#000">
<!-- y ticks -->
<g font-size="10" text-anchor="end">
<text x="26" y="10.4" textLength="10.9" lengthAdjust="spacingAndGlyphs">1.0</text><text x="26" y="53.4" textLength="10.9" lengthAdjust="spacingAndGlyphs">0.8</text><text x="26" y="96.4" textLength="10.9" lengthAdjust="spacingAndGlyphs">0.6</text><text x="26" y="139.4" textLength="10.9" lengthAdjust="spacingAndGlyphs">0.4</text><text x="26" y="182.4" textLength="10.9" lengthAdjust="spacingAndGlyphs">0.2</text><text x="26" y="225.4" textLength="10.9" lengthAdjust="spacingAndGlyphs">0.0</text>
<text x="378.8" y="14.4" textLength="10.9" lengthAdjust="spacingAndGlyphs">1.0</text><text x="378.8" y="56.6" textLength="10.9" lengthAdjust="spacingAndGlyphs">0.8</text><text x="378.8" y="98.8" textLength="10.9" lengthAdjust="spacingAndGlyphs">0.6</text><text x="378.8" y="141.0" textLength="10.9" lengthAdjust="spacingAndGlyphs">0.4</text><text x="378.8" y="183.2" textLength="10.9" lengthAdjust="spacingAndGlyphs">0.2</text><text x="378.8" y="225.4" textLength="10.9" lengthAdjust="spacingAndGlyphs">0.0</text>
</g>
<g font-size="9.6">
<text x="18.4" y="232.1" textLength="8.6" lengthAdjust="spacingAndGlyphs">10</text><text x="27.4" y="228.1" font-size="7.2" textLength="12" lengthAdjust="spacingAndGlyphs">−23</text>
<text x="115.9" y="232.1" textLength="8.6" lengthAdjust="spacingAndGlyphs">10</text><text x="124.9" y="228.1" font-size="7.2" textLength="12" lengthAdjust="spacingAndGlyphs">−22</text>
<text x="213.0" y="232.1" textLength="8.6" lengthAdjust="spacingAndGlyphs">10</text><text x="222.0" y="228.1" font-size="7.2" textLength="12" lengthAdjust="spacingAndGlyphs">−21</text>
<text x="310.9" y="232.1" textLength="8.6" lengthAdjust="spacingAndGlyphs">10</text><text x="319.9" y="228.1" font-size="7.2" textLength="12" lengthAdjust="spacingAndGlyphs">−20</text>
<text x="370.5" y="232.1" textLength="8.6" lengthAdjust="spacingAndGlyphs">10</text><text x="379.5" y="228.1" font-size="7.2" textLength="12" lengthAdjust="spacingAndGlyphs">−23</text>
<text x="467.9" y="232.1" textLength="8.6" lengthAdjust="spacingAndGlyphs">10</text><text x="476.9" y="228.1" font-size="7.2" textLength="12" lengthAdjust="spacingAndGlyphs">−22</text>
<text x="565.2" y="232.1" textLength="8.6" lengthAdjust="spacingAndGlyphs">10</text><text x="574.2" y="228.1" font-size="7.2" textLength="12" lengthAdjust="spacingAndGlyphs">−21</text>
<text x="662.3" y="232.1" textLength="8.6" lengthAdjust="spacingAndGlyphs">10</text><text x="671.3" y="228.1" font-size="7.2" textLength="12" lengthAdjust="spacingAndGlyphs">−20</text>
</g>
<text x="381.8" y="8.9" font-size="8.4">×10<tspan font-size="5.6" dy="-3.2">17</tspan></text>
<text x="175" y="244.6" font-size="10.5" text-anchor="middle">m [eV]</text>
<text x="527" y="244.6" font-size="10.5" text-anchor="middle">m [eV]</text>
<text transform="translate(8.8,114) rotate(-90)" font-size="9.5" text-anchor="middle">F</text>
<text transform="translate(359.2,116.8) rotate(-90)" font-size="11.2" text-anchor="middle">|<tspan font-style="italic">ϕ</tspan><tspan font-size="7" dy="2">∗</tspan><tspan dy="-2">| [GeV]</tspan></text>
<!-- legend -->
<rect x="33.5" y="11" width="150" height="42.8" rx="1" fill="#fff" stroke="#333" stroke-width="0.7"/>
<rect x="37" y="14.7" width="18.4" height="6.2" fill="#ffb0b0" stroke="#ff9a9a" stroke-width="0.8"/>
<rect x="37" y="28.2" width="18.4" height="6.2" fill="#ff6e6e" stroke="#ff5050" stroke-width="0.8"/>
<rect x="37" y="42.2" width="18.4" height="6" fill="#b3ffff" stroke="#a6ffff" stroke-width="0.8"/>
<g font-size="9">
<text x="62" y="21.4" textLength="104" lengthAdjust="spacingAndGlyphs">3 <tspan font-style="italic">σ</tspan> C. L. (Lyman-<tspan font-style="italic">α</tspan> forest)</text>
<text x="62" y="34.9" textLength="104" lengthAdjust="spacingAndGlyphs">2 <tspan font-style="italic">σ</tspan> C. L. (Lyman-<tspan font-style="italic">α</tspan> forest)</text>
<text x="62" y="48.3" textLength="117.5" lengthAdjust="spacingAndGlyphs">“solution” to missing satellite</text>
</g>
<!-- annotations -->
<g font-size="9.6" fill="#505050">
<text x="418" y="32" textLength="112" lengthAdjust="spacingAndGlyphs">ruled out by Lyman-<tspan font-style="italic">α</tspan> forest</text>
<text x="464.5" y="43" textLength="48" lengthAdjust="spacingAndGlyphs">(&gt; 3 <tspan font-style="italic">σ</tspan> C. L.)</text>
</g>
<g font-size="12.2" fill="#505050" text-anchor="middle">
<text x="623" y="53">ruled out</text>
<text x="623" y="70">by <tspan font-style="italic">F</tspan> &gt; 1</text>
</g>
<g font-size="8.9" fill="#f21a1a" stroke="#f21a1a" stroke-width="0.2">
<text x="507.5" y="91.3" textLength="50.5" lengthAdjust="spacingAndGlyphs">“solution” to</text>
<text x="505.5" y="102.2" textLength="63.5" lengthAdjust="spacingAndGlyphs">missing satellite</text>
</g>
<text x="553.7" y="142" font-size="13.5" fill="#fff" textLength="37.6" lengthAdjust="spacingAndGlyphs">F = 0.2</text>
<g font-size="10.8">
<g fill="#000" stroke="#000" stroke-width="0.15"><text x="617.75" y="137.2" textLength="52.3" lengthAdjust="spacingAndGlyphs">ruled out if</text><text x="627.75" y="148" textLength="40" lengthAdjust="spacingAndGlyphs"><tspan font-style="italic">r</tspan> = 10<tspan font-size="7.2" dy="-4">−4</tspan></text></g>
<g fill="#1010e0" stroke="#1010e0" stroke-width="0.15"><text x="575.75" y="168.3" textLength="52.3" lengthAdjust="spacingAndGlyphs">ruled out if</text><text x="583.5" y="179.2" textLength="40" lengthAdjust="spacingAndGlyphs"><tspan font-style="italic">r</tspan> = 10<tspan font-size="7.2" dy="-4">−3</tspan></text></g>
<g fill="#3a7a10" stroke="#3a7a10" stroke-width="0.15"><text x="463.75" y="162.2" textLength="53" lengthAdjust="spacingAndGlyphs">ruled out if</text><text x="471.25" y="174.2" textLength="40" lengthAdjust="spacingAndGlyphs"><tspan font-style="italic">r</tspan> = 10<tspan font-size="7.2" dy="-4">−2</tspan></text></g>
<g fill="#800080" stroke="#800080" stroke-width="0.15"><text x="385.5" y="168" textLength="52.5" lengthAdjust="spacingAndGlyphs">ruled out if</text><text x="391.75" y="179" textLength="40" lengthAdjust="spacingAndGlyphs"><tspan font-style="italic">r</tspan> = 10<tspan font-size="7.2" dy="-4">−1</tspan></text></g>
</g>
</g>

</svg></body></html>
